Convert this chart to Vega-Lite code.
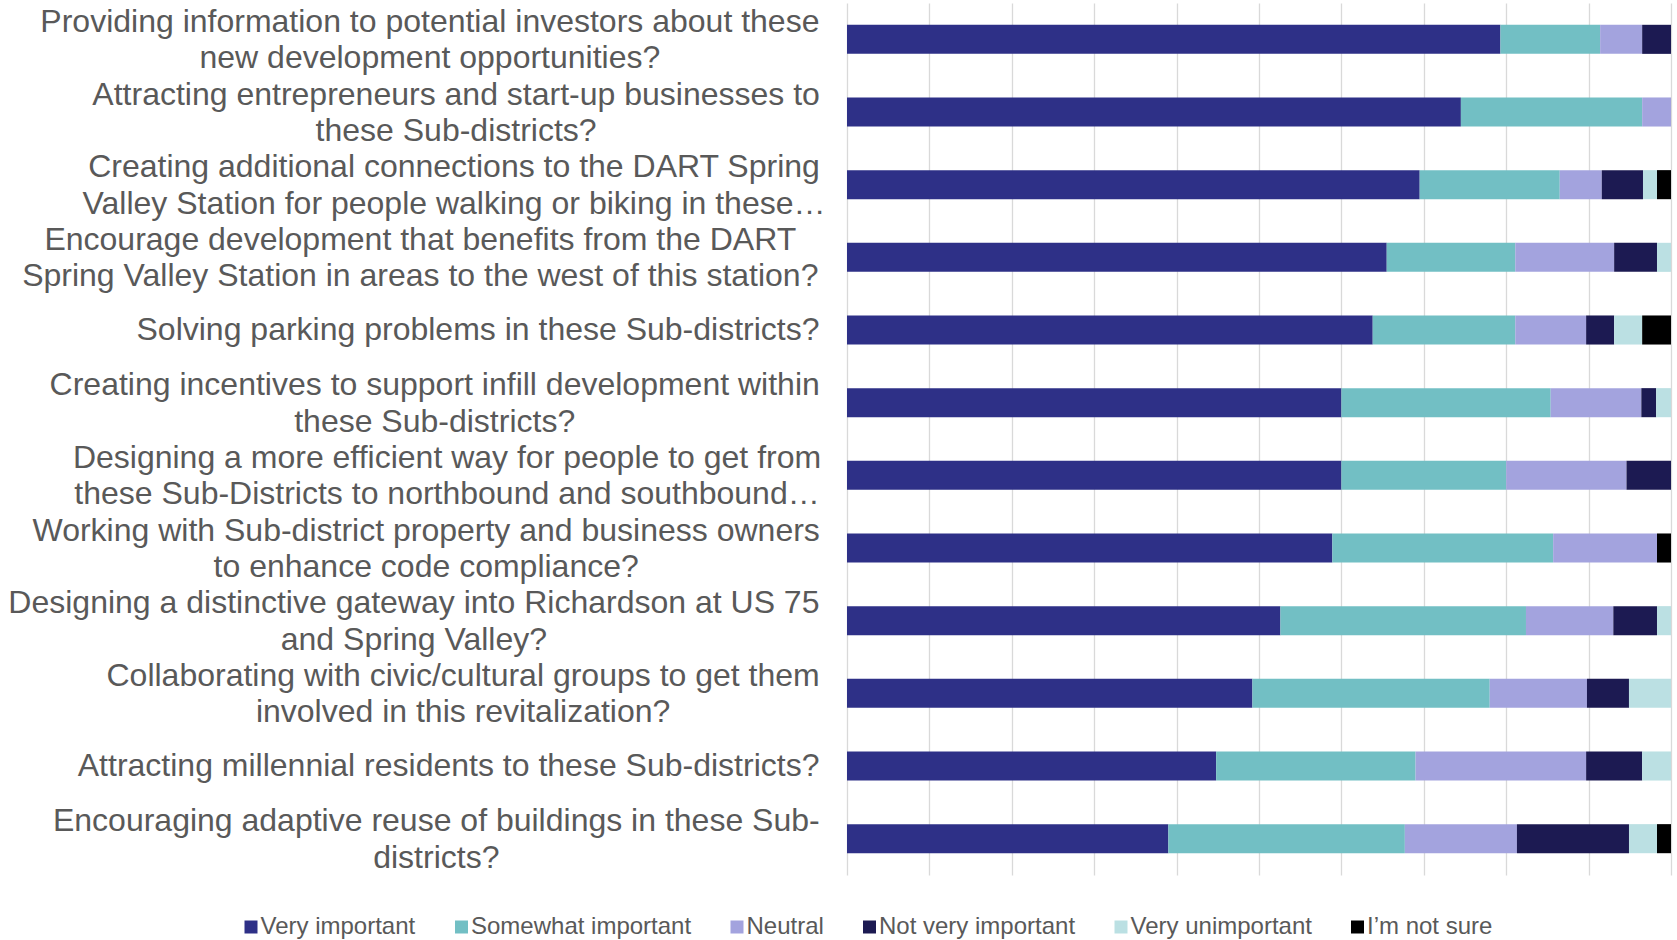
{
  "$schema": "https://vega.github.io/schema/vega-lite/v6.json",
  "autosize": "none",
  "width": 824,
  "height": 872,
  "padding": {"left": 847, "top": 3, "right": 6, "bottom": 65},
  "background": "white",
  "config": {"view": {"stroke": null}, "font": "Liberation Sans"},
  "data": {"values": [
    {"q": "Providing information to potential investors about these|new development opportunities?", "r": "Very important", "o": 1, "v": 79.3},
    {"q": "Providing information to potential investors about these|new development opportunities?", "r": "Somewhat important", "o": 2, "v": 12.1},
    {"q": "Providing information to potential investors about these|new development opportunities?", "r": "Neutral", "o": 3, "v": 5.1},
    {"q": "Providing information to potential investors about these|new development opportunities?", "r": "Not very important", "o": 4, "v": 3.5},
    {"q": "Attracting entrepreneurs and start-up businesses to|these Sub-districts?", "r": "Very important", "o": 1, "v": 74.5},
    {"q": "Attracting entrepreneurs and start-up businesses to|these Sub-districts?", "r": "Somewhat important", "o": 2, "v": 22.0},
    {"q": "Attracting entrepreneurs and start-up businesses to|these Sub-districts?", "r": "Neutral", "o": 3, "v": 3.5},
    {"q": "Creating additional connections to the DART Spring|Valley Station for people walking or biking in these…", "r": "Very important", "o": 1, "v": 69.5},
    {"q": "Creating additional connections to the DART Spring|Valley Station for people walking or biking in these…", "r": "Somewhat important", "o": 2, "v": 17.0},
    {"q": "Creating additional connections to the DART Spring|Valley Station for people walking or biking in these…", "r": "Neutral", "o": 3, "v": 5.1},
    {"q": "Creating additional connections to the DART Spring|Valley Station for people walking or biking in these…", "r": "Not very important", "o": 4, "v": 5.0},
    {"q": "Creating additional connections to the DART Spring|Valley Station for people walking or biking in these…", "r": "Very unimportant", "o": 5, "v": 1.7},
    {"q": "Creating additional connections to the DART Spring|Valley Station for people walking or biking in these…", "r": "I’m not sure", "o": 6, "v": 1.7},
    {"q": "Encourage development that benefits from the DART|Spring Valley Station in areas to the west of this station?", "r": "Very important", "o": 1, "v": 65.5},
    {"q": "Encourage development that benefits from the DART|Spring Valley Station in areas to the west of this station?", "r": "Somewhat important", "o": 2, "v": 15.6},
    {"q": "Encourage development that benefits from the DART|Spring Valley Station in areas to the west of this station?", "r": "Neutral", "o": 3, "v": 12.0},
    {"q": "Encourage development that benefits from the DART|Spring Valley Station in areas to the west of this station?", "r": "Not very important", "o": 4, "v": 5.2},
    {"q": "Encourage development that benefits from the DART|Spring Valley Station in areas to the west of this station?", "r": "Very unimportant", "o": 5, "v": 1.7},
    {"q": "Solving parking problems in these Sub-districts?", "r": "Very important", "o": 1, "v": 63.8},
    {"q": "Solving parking problems in these Sub-districts?", "r": "Somewhat important", "o": 2, "v": 17.3},
    {"q": "Solving parking problems in these Sub-districts?", "r": "Neutral", "o": 3, "v": 8.6},
    {"q": "Solving parking problems in these Sub-districts?", "r": "Not very important", "o": 4, "v": 3.4},
    {"q": "Solving parking problems in these Sub-districts?", "r": "Very unimportant", "o": 5, "v": 3.4},
    {"q": "Solving parking problems in these Sub-districts?", "r": "I’m not sure", "o": 6, "v": 3.5},
    {"q": "Creating incentives to support infill development within|these Sub-districts?", "r": "Very important", "o": 1, "v": 60.0},
    {"q": "Creating incentives to support infill development within|these Sub-districts?", "r": "Somewhat important", "o": 2, "v": 25.4},
    {"q": "Creating incentives to support infill development within|these Sub-districts?", "r": "Neutral", "o": 3, "v": 11.0},
    {"q": "Creating incentives to support infill development within|these Sub-districts?", "r": "Not very important", "o": 4, "v": 1.8},
    {"q": "Creating incentives to support infill development within|these Sub-districts?", "r": "Very unimportant", "o": 5, "v": 1.8},
    {"q": "Designing a more efficient way for people to get from|these Sub-Districts to northbound and southbound…", "r": "Very important", "o": 1, "v": 60.0},
    {"q": "Designing a more efficient way for people to get from|these Sub-Districts to northbound and southbound…", "r": "Somewhat important", "o": 2, "v": 20.0},
    {"q": "Designing a more efficient way for people to get from|these Sub-Districts to northbound and southbound…", "r": "Neutral", "o": 3, "v": 14.6},
    {"q": "Designing a more efficient way for people to get from|these Sub-Districts to northbound and southbound…", "r": "Not very important", "o": 4, "v": 5.4},
    {"q": "Working with Sub-district property and business owners|to enhance code compliance?", "r": "Very important", "o": 1, "v": 58.9},
    {"q": "Working with Sub-district property and business owners|to enhance code compliance?", "r": "Somewhat important", "o": 2, "v": 26.8},
    {"q": "Working with Sub-district property and business owners|to enhance code compliance?", "r": "Neutral", "o": 3, "v": 12.6},
    {"q": "Working with Sub-district property and business owners|to enhance code compliance?", "r": "I’m not sure", "o": 6, "v": 1.7},
    {"q": "Designing a distinctive gateway into Richardson at US 75|and Spring Valley?", "r": "Very important", "o": 1, "v": 52.6},
    {"q": "Designing a distinctive gateway into Richardson at US 75|and Spring Valley?", "r": "Somewhat important", "o": 2, "v": 29.8},
    {"q": "Designing a distinctive gateway into Richardson at US 75|and Spring Valley?", "r": "Neutral", "o": 3, "v": 10.6},
    {"q": "Designing a distinctive gateway into Richardson at US 75|and Spring Valley?", "r": "Not very important", "o": 4, "v": 5.3},
    {"q": "Designing a distinctive gateway into Richardson at US 75|and Spring Valley?", "r": "Very unimportant", "o": 5, "v": 1.7},
    {"q": "Collaborating with civic/cultural groups to get them|involved in this revitalization?", "r": "Very important", "o": 1, "v": 49.2},
    {"q": "Collaborating with civic/cultural groups to get them|involved in this revitalization?", "r": "Somewhat important", "o": 2, "v": 28.8},
    {"q": "Collaborating with civic/cultural groups to get them|involved in this revitalization?", "r": "Neutral", "o": 3, "v": 11.8},
    {"q": "Collaborating with civic/cultural groups to get them|involved in this revitalization?", "r": "Not very important", "o": 4, "v": 5.1},
    {"q": "Collaborating with civic/cultural groups to get them|involved in this revitalization?", "r": "Very unimportant", "o": 5, "v": 5.1},
    {"q": "Attracting millennial residents to these Sub-districts?", "r": "Very important", "o": 1, "v": 44.8},
    {"q": "Attracting millennial residents to these Sub-districts?", "r": "Somewhat important", "o": 2, "v": 24.2},
    {"q": "Attracting millennial residents to these Sub-districts?", "r": "Neutral", "o": 3, "v": 20.7},
    {"q": "Attracting millennial residents to these Sub-districts?", "r": "Not very important", "o": 4, "v": 6.8},
    {"q": "Attracting millennial residents to these Sub-districts?", "r": "Very unimportant", "o": 5, "v": 3.5},
    {"q": "Encouraging adaptive reuse of buildings in these Sub-|districts?", "r": "Very important", "o": 1, "v": 39.0},
    {"q": "Encouraging adaptive reuse of buildings in these Sub-|districts?", "r": "Somewhat important", "o": 2, "v": 28.7},
    {"q": "Encouraging adaptive reuse of buildings in these Sub-|districts?", "r": "Neutral", "o": 3, "v": 13.6},
    {"q": "Encouraging adaptive reuse of buildings in these Sub-|districts?", "r": "Not very important", "o": 4, "v": 13.6},
    {"q": "Encouraging adaptive reuse of buildings in these Sub-|districts?", "r": "Very unimportant", "o": 5, "v": 3.4},
    {"q": "Encouraging adaptive reuse of buildings in these Sub-|districts?", "r": "I’m not sure", "o": 6, "v": 1.7}
  ]},
  "mark": {"type": "bar"},
  "encoding": {
    "y": {
      "field": "q", "type": "nominal", "sort": null,
      "scale": {"paddingInner": 0.6, "paddingOuter": 0.3},
      "axis": {
        "title": null, "domain": false, "ticks": false, "tickSize": 0,
        "labelExpr": "split(datum.label, '|')",
        "labelFont": "Liberation Sans", "labelFontSize": 32, "labelColor": "#595959",
        "labelLineHeight": 36.5, "labelLimit": 1000, "labelAlign": "center", "labelBaseline": "middle",
        "labelOffset": {"expr": "indexof(datum.value, '|') >= 0 ? -17.5 : 0"},
        "labelPadding": {"expr": "[417.6,391.4,393.5,427.2,369.5,412.8,400.5,421.3,433.6,384.4,398.9,411.2][indexof(['Providing info','Attracting ent','Creating addit','Encourage deve','Solving parkin','Creating incen','Designing a mo','Working with S','Designing a di','Collaborating ','Attracting mil','Encouraging ad'], substring(datum.value,0,14))]"}
      }
    },
    "x": {
      "field": "v", "type": "quantitative", "stack": "normalize",
      "scale": {"domain": [0, 1], "nice": false},
      "axis": {"title": null, "labels": false, "ticks": false, "domain": false, "grid": true,
               "gridColor": "#D9D9D9", "gridWidth": 1.3,
               "values": [0, 0.1, 0.2, 0.3, 0.4, 0.5, 0.6, 0.7, 0.8, 0.9, 1]}
    },
    "order": {"field": "o", "type": "quantitative"},
    "color": {
      "field": "r", "type": "nominal",
      "scale": {
        "domain": ["Very important", "Somewhat important", "Neutral", "Not very important", "Very unimportant", "I’m not sure"],
        "range": ["#2E3087", "#72BFC4", "#A3A3DE", "#1C1A52", "#BBE0E3", "#000000"]
      },
      "legend": {
        "title": null, "orient": "none", "direction": "horizontal", "columns": 6,
        "legendX": -608, "legendY": 912,
        "symbolType": "square", "symbolSize": 169, "symbolStrokeWidth": 0, "symbolOpacity": 1,
        "labelFont": "Liberation Sans", "labelFontSize": 24, "labelColor": "#595959",
        "labelOffset": -2.5, "columnPadding": 33.5, "labelLimit": 400
      }
    }
  }
}
